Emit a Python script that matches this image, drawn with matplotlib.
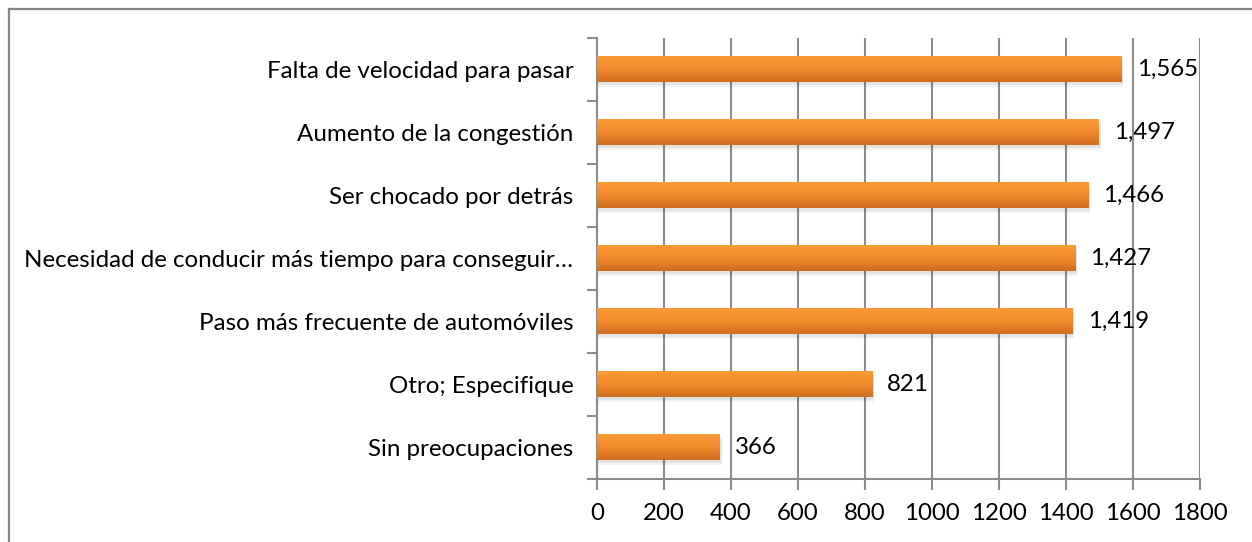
import numpy as np
import matplotlib
matplotlib.use("Agg")
import matplotlib.pyplot as plt
from matplotlib.lines import Line2D
from matplotlib.colors import LinearSegmentedColormap

categories = [
    "Falta de velocidad para pasar",
    "Aumento de la congestión",
    "Ser chocado por detrás",
    "Necesidad de conducir más tiempo para conseguir…",
    "Paso más frecuente de automóviles",
    "Otro; Especifique",
    "Sin preocupaciones",
]
values = [1565, 1497, 1466, 1427, 1419, 821, 366]
value_labels = ["1,565", "1,497", "1,466", "1,427", "1,419", "821", "366"]
xticks = [0, 200, 400, 600, 800, 1000, 1200, 1400, 1600, 1800]

plt.rcParams['font.family'] = ['Lato', 'DejaVu Sans']

W, H = 1252, 542
fig = plt.figure(figsize=(W / 100, H / 100), dpi=100)
ax = fig.add_axes([597 / W, 1 - 479 / H, (1200 - 597) / W, (479 - 38) / H])

grid_color = "#8c8c8c"
bar_h = 0.41
cmap = LinearSegmentedColormap.from_list("org", ["#f99a37", "#f08a2c", "#d06e1f"])
grad = np.linspace(0, 1, 64).reshape(-1, 1)

y = np.arange(len(categories))
for yi, v, lab in zip(y, values, value_labels):
    # soft shadow
    for k, a in [(0.07, 0.05), (0.04, 0.06)]:
        ax.add_patch(plt.Rectangle((0, yi - bar_h / 2 + k), v + 6, bar_h,
                                   facecolor="#000000", alpha=a, lw=0, zorder=2))
    # gradient bar
    ax.imshow(grad, cmap=cmap, aspect="auto", interpolation="bicubic",
              extent=(0, v, yi + bar_h / 2, yi - bar_h / 2), zorder=3)
    ax.annotate(lab, xy=(v, yi), xytext=(11, 0), textcoords="offset points",
                va="center", ha="left", fontsize=17.3, color="#000000", zorder=4)

ax.set_xlim(0, 1800)
ax.set_ylim(len(categories) - 0.5, -0.5)
ax.set_xticks(xticks)
ax.set_xticklabels([str(t) for t in xticks], fontsize=17.3)
ax.set_yticks(y)
ax.set_yticklabels(categories, fontsize=17.4)
ax.set_yticks(np.arange(-0.5, len(categories), 1.0), minor=True)
ax.tick_params(axis="y", which="major", length=0, pad=17)
ax.tick_params(axis="y", which="minor", length=7, width=1.5, color=grid_color)
ax.tick_params(axis="x", which="major", length=8, width=1.5, color=grid_color, pad=9)

ax.grid(axis="x", color=grid_color, lw=1.5, zorder=1)
ax.set_axisbelow(True)
for s in ["top", "right"]:
    ax.spines[s].set_visible(False)
for s in ["left", "bottom"]:
    ax.spines[s].set_color(grid_color)
    ax.spines[s].set_linewidth(1.5)

# outer chart frame (left and top edges visible)
fig.add_artist(Line2D([8.5 / W, 8.5 / W], [0, 1 - 8.5 / H], transform=fig.transFigure,
                      color="#858585", lw=1.6))
fig.add_artist(Line2D([8.5 / W, 1], [1 - 8.5 / H, 1 - 8.5 / H], transform=fig.transFigure,
                      color="#858585", lw=1.6))

fig.savefig("out.png", dpi=100)
